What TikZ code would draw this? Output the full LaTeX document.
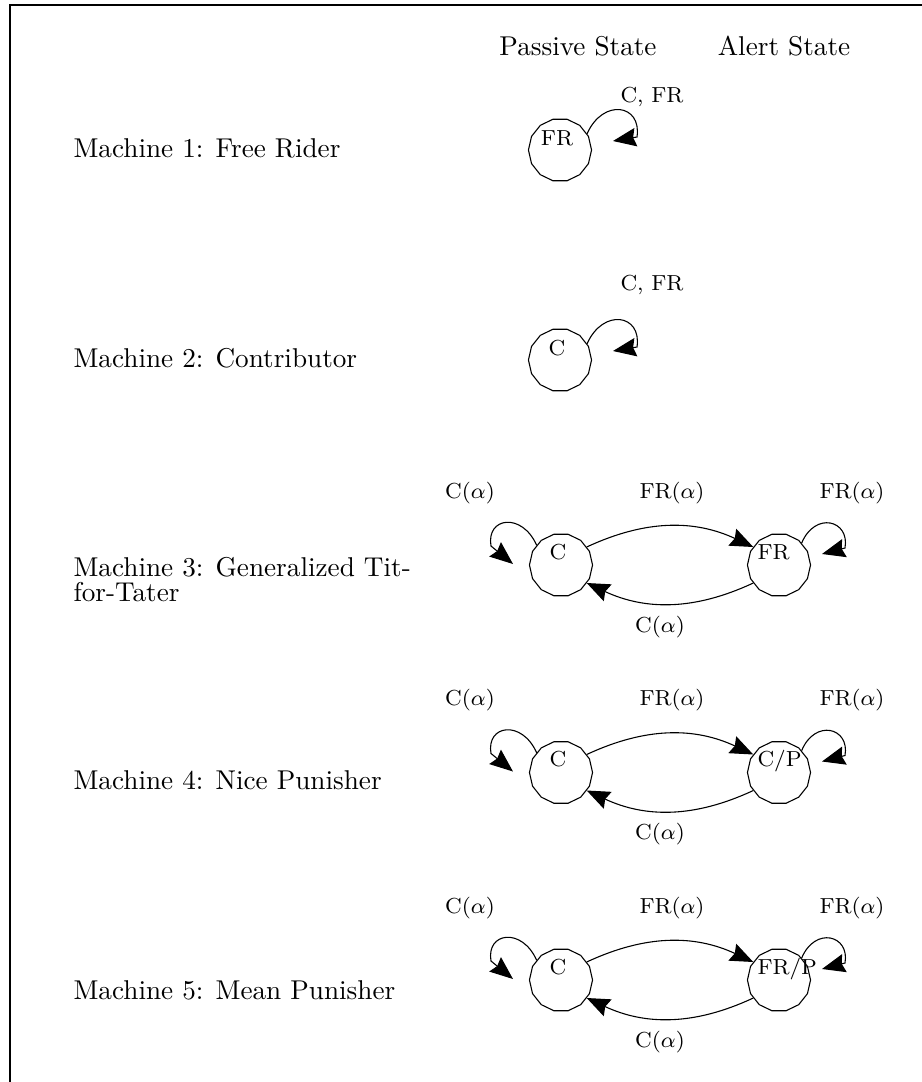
\documentclass[tikz,border=0pt]{standalone}
\usetikzlibrary{arrows.meta,shapes.geometric,positioning}

\tikzset{
    state/.style={draw, thin, regular polygon, regular polygon sides=14, minimum size=23.2pt, inner sep=0pt},
    statetext/.style={font=\footnotesize, inner sep=0pt, anchor=base},
    edgetext/.style={font=\footnotesize, inner sep=0pt},
    machine/.style={font=\normalsize, inner sep=0pt, anchor=west, align=left},
    header/.style={font=\normalsize, inner sep=0pt, anchor=base},
    trans/.style={thin, -{Stealth[length=8.5pt,width=6.8pt,inset=1pt]}},
}

\begin{document}
\begin{tikzpicture}[x=0.3676pt, y=0.3676pt]
        % page frame: top and left rules only
        \useasboundingbox (0,0) rectangle (922,-1082);
        \draw[line width=0.8pt] (10,-1082) -- (10,-5) -- (922,-5);

        % column headings
        \node[header] (passive) at (578,-55) {Passive State};
        \node[header] (alert) at (784,-55) {Alert State};

        % Machines 1 and 2: one passive state looping on itself
        \foreach \n/\dy/\name/\st/\ly in {1/0/Free Rider/FR/97, 2/210/Contributor/C/75} {
            \begin{scope}[shift={(0,-\dy)}]
                \node[machine] (m\n) at (73,-148) {Machine \n: \name};
                \node[state] (S\n) at (560,-150) {};
                \node[statetext] (s\n) at (557,-145) {\st};
                \coordinate (S\n tip) at (613,-141);
                \draw[trans] (S\n.31) .. controls (603,-98) and (642,-104) .. (637,-137) -- (S\n tip);
                \node[edgetext] (e\n) at (652,-\ly) {C, FR};
            \end{scope}
        }

        % Machines 3 to 5: passive state and alert state
        \foreach \n/\dy/\my/\name/\st in {3/0/579.5/{Generalized Tit-\\[-2.8pt]for-Tater}/FR,
                                         4/207.5/572.5/Nice Punisher/{C/P},
                                         5/415/575/Mean Punisher/{FR/P}} {
            \begin{scope}[shift={(0,-\dy)}]
                \node[machine] (m\n) at (73,-\my) {Machine \n: \name};

                % states
                \node[state] (L\n) at (561,-565) {};
                \node[state] (R\n) at (779,-565) {};
                \node[statetext] (l\n) at (558,-559) {C};
                \node[statetext, anchor=base west] (r\n) at (757,-559) {\st};

                % transitions between the states
                \draw[trans] (L\n.35) to[out=25,in=155] (R\n.145);
                \draw[trans] (R\n.215) to[out=205,in=-25] (L\n.325);

                % self-loops
                \coordinate (L\n tip) at (513,-564);
                \draw[trans] (L\n.141) .. controls (522,-512) and (486,-517) .. (491,-546) -- (L\n tip);
                \coordinate (R\n tip) at (822,-554);
                \draw[trans] (R\n.44) .. controls (815,-511) and (850,-520) .. (845,-548) -- (R\n tip);

                % transition labels
                \node[edgetext] (a\n) at (470,-493) {C($\alpha$)};
                \node[edgetext] (b\n) at (672,-493) {FR($\alpha$)};
                \node[edgetext] (c\n) at (852,-493) {FR($\alpha$)};
                \node[edgetext] (d\n) at (660,-627) {C($\alpha$)};
            \end{scope}
        }
\end{tikzpicture}
\end{document}
